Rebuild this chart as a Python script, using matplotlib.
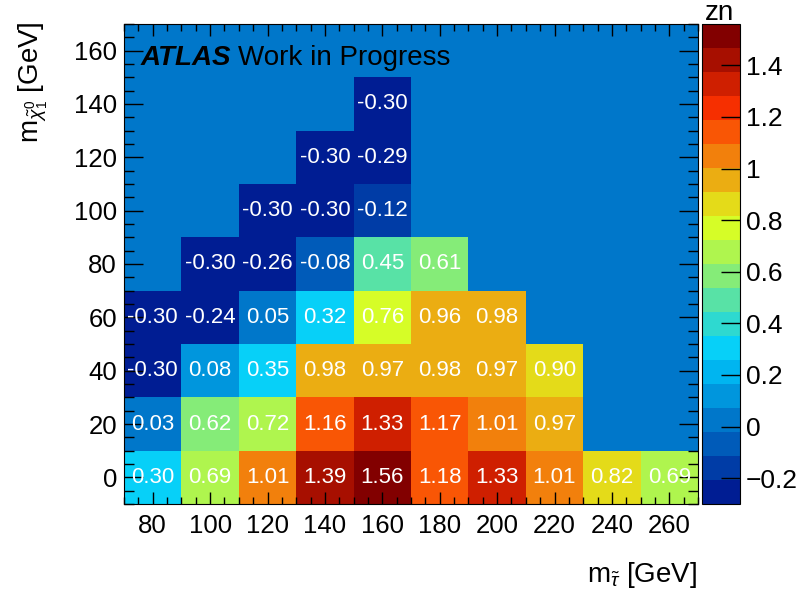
import numpy as np
import matplotlib
matplotlib.use("Agg")
from matplotlib import pyplot as plt
from matplotlib.colors import LinearSegmentedColormap, ListedColormap, BoundaryNorm
from matplotlib.ticker import MultipleLocator, FixedLocator

plt.rcParams['font.family'] = ['Liberation Sans', 'DejaVu Sans']
plt.rcParams['mathtext.fontset'] = 'custom'
plt.rcParams['mathtext.rm'] = 'Liberation Sans'
plt.rcParams['mathtext.it'] = 'Liberation Sans:italic'

# grid of stau / neutralino masses (bin centres, GeV)
m_stau = [80, 100, 120, 140, 160, 180, 200, 220, 240, 260]
m_chi = [0, 20, 40, 60, 80, 100, 120, 140]

nan = np.nan
# significance per mass point, one row per neutralino mass
zn_0 = [0.30, 0.69, 1.01, 1.39, 1.56, 1.18, 1.33, 1.01, 0.82, 0.69]
zn_20 = [0.03, 0.62, 0.72, 1.16, 1.33, 1.17, 1.01, 0.97, nan, nan]
zn_40 = [-0.30, 0.08, 0.35, 0.98, 0.97, 0.98, 0.97, 0.90, nan, nan]
zn_60 = [-0.30, -0.24, 0.05, 0.32, 0.76, 0.96, 0.98, nan, nan, nan]
zn_80 = [nan, -0.30, -0.26, -0.08, 0.45, 0.61, nan, nan, nan, nan]
zn_100 = [nan, nan, -0.30, -0.30, -0.12, nan, nan, nan, nan, nan]
zn_120 = [nan, nan, nan, -0.30, -0.29, nan, nan, nan, nan, nan]
zn_140 = [nan, nan, nan, nan, -0.30, nan, nan, nan, nan, nan]

zn = np.array([zn_0, zn_20, zn_40, zn_60, zn_80, zn_100, zn_120, zn_140])

# ATLAS rainbow palette, 255 colours, cut into 20 contour levels
stops = [0.00, 0.34, 0.61, 0.84, 1.00]
red = [0.00, 0.00, 0.87, 1.00, 0.51]
green = [0.00, 0.81, 1.00, 0.20, 0.00]
blue = [0.51, 1.00, 0.12, 0.00, 0.00]
palette = LinearSegmentedColormap.from_list(
    "atlas", [(s, (r, g, b)) for s, r, g, b in zip(stops, red, green, blue)])
nlev = 20
ncol = 255
cols = [palette(int((i + 0.99) * ncol / nlev) / (ncol - 1)) for i in range(nlev)]
cmap = ListedColormap(cols)

zmin = np.nanmin(zn)
zmax = np.nanmax(zn)
levels = np.linspace(zmin, zmax, nlev + 1)
norm = BoundaryNorm(levels, nlev)

fig = plt.figure(figsize=(7.98, 5.92), dpi=100)
ax = fig.add_axes([124/798, 88/592, 574/798, 480/592])
cax = fig.add_axes([702/798, 88/592, 38/798, 480/592])

# empty bins show the colour of zero
ax.set_facecolor(cmap(norm(0.0)))

dx = 20
xedges = np.array(m_stau + [m_stau[-1] + dx]) - dx/2
yedges = np.array(m_chi + [m_chi[-1] + dx]) - dx/2
mesh = ax.pcolormesh(xedges, yedges, np.ma.masked_invalid(zn), cmap=cmap, norm=norm)

for j, y in enumerate(m_chi):
    for i, x in enumerate(m_stau):
        v = zn[j, i]
        if np.isnan(v):
            continue
        ax.text(x, y, "%.2f" % v, color="white", fontsize=16,
                ha="center", va="center")

ax.set_xlim(70, 270)
ax.set_ylim(-10, 170)
ax.xaxis.set_major_locator(FixedLocator(m_stau))
ax.xaxis.set_minor_locator(MultipleLocator(5))
ax.yaxis.set_major_locator(MultipleLocator(20))
ax.yaxis.set_minor_locator(MultipleLocator(5))
ax.tick_params(which="both", direction="in", top=True, right=True, labelsize=18.5, width=1)
ax.tick_params(axis="x", which="major", length=8.5, pad=7)
ax.tick_params(axis="x", which="minor", length=5)
ax.tick_params(axis="y", which="major", length=14, pad=5)
ax.tick_params(axis="y", which="minor", length=7)

# label: bold italic ATLAS followed by the status
t = ax.text(0.029, 0.915, "ATLAS", transform=ax.transAxes, fontsize=20,
            fontweight="bold", fontstyle="italic", va="baseline")
fig.canvas.draw()
bb = t.get_window_extent().transformed(ax.transAxes.inverted())
ax.text(bb.x1 + 0.012, 0.915, "Work in Progress", transform=ax.transAxes,
        fontsize=20, va="baseline")

fig.text(697/798, 1 - 582/592, r"m$_{\tilde{\tau}}$ [GeV]", fontsize=20,
         ha="right", va="baseline")
fig.text(33/798, 1 - 21/592, r"m$_{\tilde{\chi}^{0}_{1}}$ [GeV]", fontsize=20,
         rotation=90, ha="center", va="top")

cb = fig.colorbar(mesh, cax=cax, ticks=[-0.2, 0, 0.2, 0.4, 0.6, 0.8, 1, 1.2, 1.4])
cb.ax.set_yticklabels(["\u22120.2", "0", "0.2", "0.4", "0.6", "0.8", "1", "1.2", "1.4"])
cb.ax.tick_params(direction="in", length=14, width=1, labelsize=19, pad=4)
cb.ax.minorticks_off()
cb.outline.set_linewidth(0.8)
fig.text(720/798, 1 - 20/592, "zn", fontsize=20, ha="center", va="baseline")

plt.savefig("out.png", dpi=100)
